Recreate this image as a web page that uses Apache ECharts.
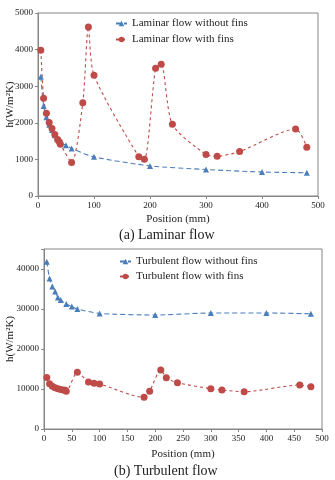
<!DOCTYPE html>
<html>
<head>
<meta charset="utf-8">
<script src="https://cdn.jsdelivr.net/npm/echarts@6/dist/echarts.min.js"></script>
<style>
  html, body { margin: 0; padding: 0; background: #fff; }
  #main { width: 335px; height: 480px; }
</style>
</head>
<body>
<div id="main"></div>
<script>
// laminar (a)
const lamPosNoFin = [5, 10, 15, 20, 25, 30, 35, 40, 50, 60, 100, 200, 300, 400, 480];
const lamNoFin = [3260, 2460, 2150, 1950, 1800, 1660, 1550, 1450, 1390, 1300, 1070, 823, 725, 655, 635];
const lamPosFin = [5, 10, 15, 20, 25, 30, 35, 38, 40, 60, 80, 90, 100, 180, 190, 210, 220, 240, 300, 320, 360, 460, 480];
const lamFin = [3985, 2670, 2258, 2011, 1846, 1682, 1545, 1480, 1417, 914, 2550, 4616, 3300, 1070, 1005, 3490, 3600, 1957, 1135, 1088, 1217, 1828, 1335];

// turbulent (b)
const turPosNoFin = [5, 10, 15, 20, 25, 30, 40, 50, 60, 100, 200, 300, 400, 480];
const turNoFin = [41800, 37600, 35600, 34400, 32900, 32250, 31250, 30600, 30000, 28900, 28500, 29000, 29000, 28800];
const turPosFin = [5, 10, 15, 20, 25, 30, 35, 38, 40, 60, 80, 90, 100, 180, 190, 210, 220, 240, 300, 320, 360, 460, 480];
const turFin = [12900, 11330, 10670, 10330, 10080, 9900, 9750, 9670, 9420, 14170, 11750, 11420, 11250, 7920, 9420, 14750, 12830, 11575, 10075, 9750, 9325, 11000, 10575];

const lamNames = ['Laminar flow without fins', 'Laminar flow with fins'];
const turNames = ['Turbulent flow without fins', 'Turbulent flow with fins'];

const BLUE = '#4a7ebb';
const RED = '#be4b48';
const FONT = 'Liberation Serif';

function pairs(xs, ys) {
  return xs.map((x, i) => [x, ys[i]]);
}

const axisCommon = {
  axisLine: { show: true, lineStyle: { color: '#868686', width: 1 } },
  axisTick: { show: true, length: 3, lineStyle: { color: '#868686' } },
  axisLabel: { color: '#222', fontFamily: FONT, fontSize: 9, margin: 5, formatter: v => String(v) },
  splitLine: { show: false },
  nameMoveOverlap: false
};

function line(name, data, idx, color, symbol, size, dash) {
  return {
    name: name, type: 'line', xAxisIndex: idx, yAxisIndex: idx,
    data: data, smooth: 0.25,
    symbol: symbol, symbolSize: size,
    itemStyle: { color: color },
    lineStyle: { color: color, width: 1.1, type: dash }
  };
}

const myChart = echarts.init(document.getElementById('main'));

const legendText = { fontFamily: FONT, fontSize: 11, color: '#222' };
const titleText = { fontFamily: FONT, fontSize: 14, fontWeight: 'normal', color: '#222' };
const nameText = { fontFamily: FONT, fontSize: 11, color: '#222' };

const gridCommon = {
  show: true, borderColor: '#868686', borderWidth: 1, backgroundColor: 'transparent',
  containLabel: false, outerBoundsMode: 'none'
};

const option = {
  animation: false,
  backgroundColor: '#fff',
  textStyle: { fontFamily: FONT },
  grid: [
    Object.assign({ left: 38, right: 17, top: 13, height: 183 }, gridCommon),
    Object.assign({ left: 44, right: 13, top: 249, height: 180 }, gridCommon)
  ],
  legend: [
    {
      data: lamNames, orient: 'vertical', left: 115, top: 18, itemGap: 5, padding: 0,
      itemWidth: 11, itemHeight: 7, textStyle: legendText
    },
    {
      data: turNames, orient: 'vertical', left: 119, top: 256, itemGap: 4, padding: 0,
      itemWidth: 11, itemHeight: 7, textStyle: legendText
    }
  ],
  title: [
    { text: '(a) Laminar flow', left: 119, top: 228, padding: 0, textStyle: titleText },
    { text: '(b) Turbulent flow', left: 114, top: 464, padding: 0, textStyle: titleText }
  ],
  xAxis: [
    Object.assign({}, axisCommon, {
      type: 'value', gridIndex: 0, min: 0, max: 500, interval: 100,
      name: 'Position (mm)', nameLocation: 'middle', nameGap: 18, nameTextStyle: nameText
    }),
    Object.assign({}, axisCommon, {
      type: 'value', gridIndex: 1, min: 0, max: 500, interval: 50,
      name: 'Position (mm)', nameLocation: 'middle', nameGap: 20, nameTextStyle: nameText
    })
  ],
  yAxis: [
    Object.assign({}, axisCommon, {
      type: 'value', gridIndex: 0, min: 0, max: 5000, interval: 1000,
      name: 'h(W/m²K)', nameLocation: 'middle', nameGap: 22, nameTextStyle: nameText
    }),
    Object.assign({}, axisCommon, {
      type: 'value', gridIndex: 1, min: 0, max: 45000, interval: 10000,
      name: 'h(W/m²K)', nameLocation: 'middle', nameGap: 28, nameTextStyle: nameText,
      axisLabel: Object.assign({}, axisCommon.axisLabel, {
        formatter: v => (v === 45000 ? '' : String(v))
      })
    })
  ],
  series: [
    line(lamNames[0], pairs(lamPosNoFin, lamNoFin), 0, BLUE, 'triangle', 6, [5, 3]),
    line(lamNames[1], pairs(lamPosFin, lamFin), 0, RED, 'circle', 7, [3, 3]),
    line(turNames[0], pairs(turPosNoFin, turNoFin), 1, BLUE, 'triangle', 6, [5, 3]),
    line(turNames[1], pairs(turPosFin, turFin), 1, RED, 'circle', 7, [3, 3])
  ]
};

myChart.setOption(option);
</script>
</body>
</html>
